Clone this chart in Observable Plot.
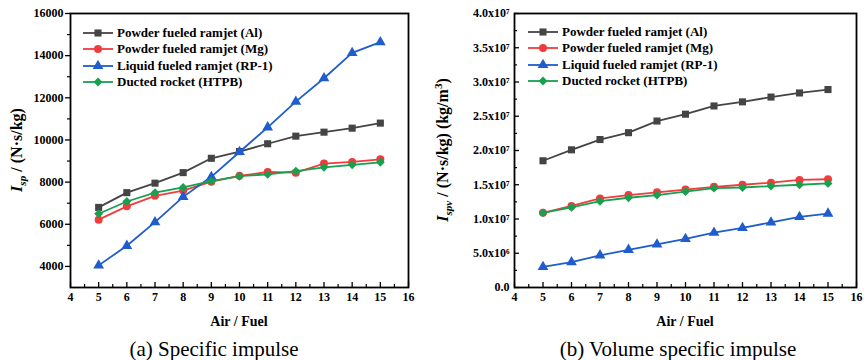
<!DOCTYPE html>
<html><head><meta charset="utf-8">
<script src="https://cdn.jsdelivr.net/npm/d3@7"></script>
<script src="https://cdn.jsdelivr.net/npm/@observablehq/plot@0.6"></script>
<style>
body{margin:0;background:#fff;}
#root{position:relative;width:864px;height:360px;font-family:"Liberation Serif","Times New Roman",serif;color:#000;overflow:hidden;background:#fff}
.panel{position:absolute;top:0}
.ytitle{position:absolute;white-space:nowrap;transform:translate(-50%,-50%) rotate(-90deg);font-weight:bold;font-size:16px;line-height:1}
.xtitle{position:absolute;white-space:nowrap;transform:translate(-50%,-50%);font-weight:bold;font-size:14px;line-height:1}
.caption{position:absolute;white-space:nowrap;transform:translate(-50%,-50%);font-size:21px;line-height:1}
.legend{position:absolute;font-weight:bold;font-size:13px}
.legend .row{display:flex;align-items:center;height:16.3px;white-space:nowrap}
.legend svg{flex:none;margin-right:4px}
sub,sup{font-size:70%;line-height:0}
</style></head>
<body>
<div id="root"></div>
<script>
// ---------- data ----------
const airFuel = [5, 6, 7, 8, 9, 10, 11, 12, 13, 14, 15];
const seriesNames = ["Powder fueled ramjet (Al)", "Powder fueled ramjet (Mg)", "Liquid fueled ramjet (RP-1)", "Ducted rocket (HTPB)"];
const seriesColors = ["#444444", "#f03c3c", "#1f5ccc", "#17a050"];
const seriesSymbols = ["square", "circle", "triangle", "diamond2"];

// (a) specific impulse, N·s/kg
const ispAl   = [6800, 7500, 7950, 8450, 9130, 9450, 9820, 10180, 10370, 10560, 10800];
const ispMg   = [6220, 6850, 7350, 7600, 8020, 8300, 8480, 8450, 8880, 8960, 9080];
const ispRP1  = [4050, 4980, 6100, 7300, 8250, 9430, 10600, 11820, 12930, 14130, 14640];
const ispHTPB = [6500, 7080, 7500, 7750, 8050, 8280, 8370, 8520, 8700, 8820, 8940];

// (b) volume specific impulse, (N·s/kg)(kg/m^3)
const ispvAl   = [1.85e7, 2.01e7, 2.16e7, 2.26e7, 2.43e7, 2.53e7, 2.65e7, 2.71e7, 2.78e7, 2.84e7, 2.89e7];
const ispvMg   = [1.09e7, 1.19e7, 1.30e7, 1.35e7, 1.39e7, 1.43e7, 1.47e7, 1.50e7, 1.53e7, 1.57e7, 1.58e7];
const ispvRP1  = [0.30e7, 0.37e7, 0.47e7, 0.55e7, 0.63e7, 0.71e7, 0.80e7, 0.87e7, 0.95e7, 1.03e7, 1.08e7];
const ispvHTPB = [1.09e7, 1.17e7, 1.26e7, 1.31e7, 1.35e7, 1.40e7, 1.45e7, 1.46e7, 1.48e7, 1.50e7, 1.52e7];

// ticks
const xTicks = [4, 5, 6, 7, 8, 9, 10, 11, 12, 13, 14, 15, 16];
const xMinor = [4.5, 5.5, 6.5, 7.5, 8.5, 9.5, 10.5, 11.5, 12.5, 13.5, 14.5, 15.5];
const ispTicks = [4000, 6000, 8000, 10000, 12000, 14000, 16000];
const ispMinor = [5000, 7000, 9000, 11000, 13000, 15000];
const ispvTicks = [0, 5e6, 1e7, 1.5e7, 2e7, 2.5e7, 3e7, 3.5e7, 4e7];
const ispvMinor = [2.5e6, 7.5e6, 1.25e7, 1.75e7, 2.25e7, 2.75e7, 3.25e7, 3.75e7];

// ---------- helpers ----------
const SUP = {"0":"⁰","1":"¹","2":"²","3":"³","4":"⁴","5":"⁵","6":"⁶","7":"⁷","8":"⁸","9":"⁹"};
function sciFormat(d) {
  if (d === 0) return "0.0";
  const e = Math.floor(Math.log10(d) + 1e-9);
  const m = d / Math.pow(10, e);
  return m.toFixed(1) + "x10" + String(e).split("").map(c => SUP[c]).join("");
}
function toRows(arrays) {
  return arrays.flatMap((vals, i) => airFuel.map((x, j) => ({x, y: vals[j], s: seriesNames[i]})));
}

const W = 432, H = 330, MT = 13, MB = 43;

function makePanel({rows, yDomain, yTicks, yMinor, yFormat, ml, mr, yOut}) {
  const FW = W - ml - mr, FH = H - MT - MB;
  const marks = [];
  // x ticks (inward)
  marks.push(Plot.tickX(xTicks, {x: d => d, insetTop: FH - 5, stroke: "black", strokeWidth: 1.3}));
  marks.push(Plot.tickX(xMinor, {x: d => d, insetTop: FH - 3, stroke: "black", strokeWidth: 1.2}));
  marks.push(Plot.axisX({ticks: xTicks, tickSize: 0, tickPadding: 5, label: null, tickFormat: d => String(d)}));
  if (yOut) {
    marks.push(Plot.axisY({ticks: yTicks, tickSize: 5, tickPadding: 2, strokeWidth: 1.3, label: null, tickFormat: yFormat}));
    marks.push(Plot.axisY({ticks: yMinor, tickSize: 3, strokeWidth: 1.2, label: null, tickFormat: () => ""}));
  } else {
    marks.push(Plot.tickY(yTicks, {y: d => d, insetRight: FW - 5, stroke: "black", strokeWidth: 1.3}));
    marks.push(Plot.tickY(yMinor, {y: d => d, insetRight: FW - 3, stroke: "black", strokeWidth: 1.2}));
    marks.push(Plot.axisY({ticks: yTicks, tickSize: 0, tickPadding: 5, label: null, tickFormat: yFormat}));
  }
  seriesNames.forEach((name) => {
    const data = rows.filter(r => r.s === name);
    marks.push(Plot.line(data, {x: "x", y: "y", stroke: "s", strokeWidth: 1.8}));
    marks.push(Plot.dot(data, {x: "x", y: "y", fill: "s", symbol: "s", r: 4, stroke: "none"}));
  });
  marks.push(Plot.frame({stroke: "black", strokeWidth: 1.8}));
  return Plot.plot({
    width: W, height: H,
    marginLeft: ml, marginRight: mr, marginTop: MT, marginBottom: MB,
    x: {domain: [4, 16], label: null},
    y: {domain: yDomain, label: null},
    color: {domain: seriesNames, range: seriesColors},
    symbol: {domain: seriesNames, range: seriesSymbols},
    style: {fontFamily: '"Liberation Serif","Times New Roman",serif', fontSize: "12px", fontWeight: "bold", color: "black", background: "transparent", overflow: "visible"},
    marks
  });
}

function makeLegend(left, top) {
  const div = document.createElement("div");
  div.className = "legend";
  div.style.left = left + "px";
  div.style.top = top + "px";
  const symMap = {square: d3.symbolSquare, circle: d3.symbolCircle, triangle: d3.symbolTriangle, diamond2: d3.symbolDiamond2};
  seriesNames.forEach((name, i) => {
    const row = document.createElement("div");
    row.className = "row";
    const svg = d3.create("svg").attr("width", 30).attr("height", 12);
    svg.append("line").attr("x1", 0).attr("x2", 30).attr("y1", 6).attr("y2", 6)
      .attr("stroke", seriesColors[i]).attr("stroke-width", 1.8);
    svg.append("path").attr("transform", "translate(15,6)")
      .attr("d", d3.symbol(symMap[seriesSymbols[i]], Math.PI * 16)())
      .attr("fill", seriesColors[i]);
    row.appendChild(svg.node());
    const t = document.createElement("span");
    t.textContent = name;
    row.appendChild(t);
    div.appendChild(row);
  });
  return div;
}

function addText(cls, html, x, y) {
  const d = document.createElement("div");
  d.className = cls;
  d.innerHTML = html;
  d.style.left = x + "px";
  d.style.top = y + "px";
  root.appendChild(d);
}

const root = document.getElementById("root");

const p1 = makePanel({rows: toRows([ispAl, ispMg, ispRP1, ispHTPB]), yDomain: [3000, 16000], yTicks: ispTicks, yMinor: ispMinor, yFormat: d => String(d), ml: 70, mr: 24, yOut: true});
p1.classList.add("panel"); p1.style.left = "0px";
root.appendChild(p1);

const p2 = makePanel({rows: toRows([ispvAl, ispvMg, ispvRP1, ispvHTPB]), yDomain: [0, 4e7], yTicks: ispvTicks, yMinor: ispvMinor, yFormat: sciFormat, ml: 82, mr: 8, yOut: false});
p2.classList.add("panel"); p2.style.left = "432px";
root.appendChild(p2);

root.appendChild(makeLegend(83, 25));
root.appendChild(makeLegend(528, 24));

addText("ytitle", "<i>I</i><sub><i>sp</i></sub> / (N·s/kg)", 17, 150);
addText("ytitle", "<i>I</i><sub><i>spv</i></sub> / (N·s/kg) (kg/m<sup>3</sup>)", 443, 150);
addText("xtitle", "Air / Fuel", 239, 322);
addText("xtitle", "Air / Fuel", 685, 322);
addText("caption", "(a) Specific impulse", 214, 349);
addText("caption", "(b) Volume specific impulse", 678, 349);
</script>
</body></html>
